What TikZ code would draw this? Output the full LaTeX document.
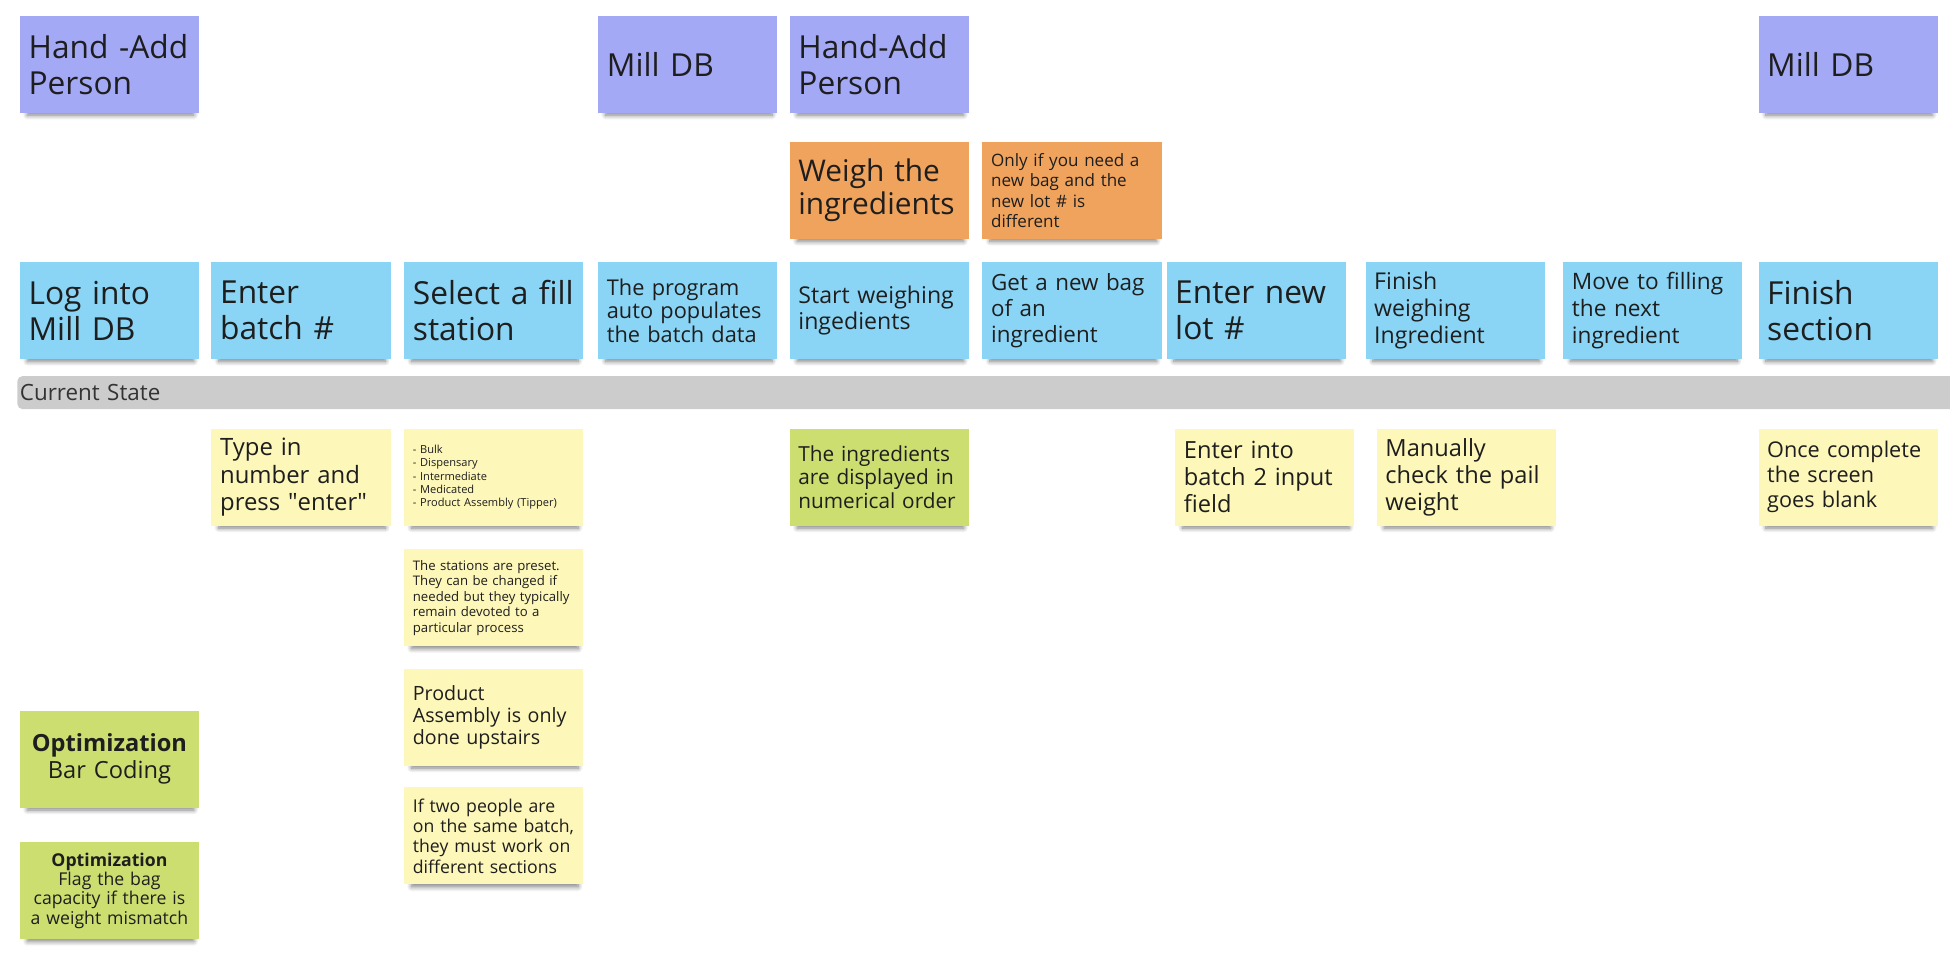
\documentclass[tikz,border=0pt]{standalone}
\usepackage{fontspec}
\setmainfont{Open Sans}
\usetikzlibrary{positioning,shadows.blur}

\definecolor{personcol}{HTML}{A4A9F6}
\definecolor{stepcol}{HTML}{8AD5F5}
\definecolor{orangecol}{HTML}{F0A35C}
\definecolor{yellowcol}{HTML}{FDF7B9}
\definecolor{greencol}{HTML}{CDDE70}
\definecolor{lanecol}{HTML}{CCCCCC}
\definecolor{inkcol}{HTML}{1E1E1E}

\newcommand{\fsz}[2]{\fontsize{#1}{#2}\selectfont}

\tikzset{
  sticky/.style={rectangle, minimum width=144pt, minimum height=78pt,
    text width=130pt, inner xsep=7pt, inner ysep=0pt, outer sep=0pt,
    align=left, text=inkcol,
    blur shadow={shadow xshift=1pt, shadow yshift=-5pt, shadow scale=0.93,
      shadow blur radius=4pt, shadow blur steps=8, shadow opacity=50}},
  person/.style={sticky, fill=personcol},
  stepnote/.style={sticky, fill=stepcol},
  orangenote/.style={sticky, fill=orangecol},
  yellownote/.style={sticky, fill=yellowcol},
  greennote/.style={sticky, fill=greencol},
  big/.style={font=\fsz{25.5}{29}},
  mid/.style={font=\fsz{18.6}{21.5}},
  lane/.style={fill=lanecol, rounded corners=4pt, minimum width=1580pt,
    minimum height=26.5pt, text width=1576pt, inner xsep=2pt, inner ysep=0pt,
    outer sep=0pt, align=left, text=black!80, font=\fsz{18}{20}}
}

\begin{document}
\begin{tikzpicture}[x=1pt, y=1pt]
    \useasboundingbox (0,0) rectangle (1568,-783);
    \clip (0,0) rectangle (1568,-783);

    % middle row: process steps
    \node [stepnote,big] (log) at (88,-249.7) {Log into\\Mill DB};
    \node [stepnote,big,right=10pt of log]      (batch)   {Enter\\batch \#};
    \node [stepnote,big,right=11pt of batch]    (station) {Select a fill\\station};
    \node [stepnote,right=12pt of station,font=\fsz{17.5}{19}] (auto)
          {The program\\auto populates\\the batch data};
    \node [stepnote,mid,right=10pt of auto]     (start)   {Start weighing\\ingedients};
    \node [stepnote,right=11pt of start,font=\fsz{18}{21}] (newbag)
          {Get a new bag\\of an\\ingredient};
    \node [stepnote,big,right=4pt of newbag]    (newlot)  {Enter new\\lot \#};
    \node [stepnote,mid,right=16pt of newlot]   (finishw) {Finish\\weighing\\Ingredient};
    \node [stepnote,right=15pt of finishw,font=\fsz{18.2}{21.5}] (move)
          {Move to filling\\the next\\ingredient};
    \node [stepnote,big,right=13pt of move]     (finishs) {Finish\\section};

    % top rows: who / what system
    \node [person,big,above=120pt of log]     (hand1) {Hand -Add\\Person};
    \node [person,big,above=120pt of auto]    (mill1) {Mill DB};
    \node [orangenote,above=18.5pt of start,font=\fsz{24}{26.6}] (weigh)
          {Weigh the\\ingredients};
    \node [person,big,above=23.5pt of weigh]  (hand2) {Hand-Add\\Person};
    \node [orangenote,above=18.5pt of newbag,font=\fsz{13.7}{16.3}] (onlyif)
          {Only if you need a\\new bag and the\\new lot \# is\\different};
    \node [person,big,above=120pt of finishs] (mill2) {Mill DB};

    % swim lane
    \node [lane,anchor=west] (state) at (14,-315.7) {Current State};

    % bottom rows: notes
    \node [yellownote,below=56pt of batch,font=\fsz{19.2}{21.8}] (typein)
          {Type in\\number and\\press \textquotedbl enter\textquotedbl};
    \node [yellownote,below=56pt of station,font=\fsz{8.9}{10.7}] (kinds)
          {- Bulk\\- Dispensary\\- Intermediate\\- Medicated\\- Product Assembly (Tipper)};
    \node [yellownote,below=19pt of kinds,font=\fsz{10.6}{12.4}] (preset)
          {The stations are preset.\\They can be changed if\\needed but they typically\\remain devoted to a\\particular process};
    \node [yellownote,below=18pt of preset,font=\fsz{15.8}{17.7}] (upstairs)
          {Product\\Assembly is only\\done upstairs};
    \node [yellownote,below=17.5pt of upstairs,font=\fsz{14.2}{16.3}] (twopeople)
          {If two people are\\on the same batch,\\they must work on\\different sections};
    \node [greennote,below=56pt of start,font=\fsz{16.7}{18.7}] (order)
          {The ingredients\\are displayed in\\numerical order};
    \node [yellownote,below=56pt of newlot,xshift=7pt,font=\fsz{19}{21.5}] (batchfield)
          {Enter into\\batch 2 input\\field};
    \node [yellownote,below=56pt of finishw,xshift=9pt,font=\fsz{19}{21.5}] (pail)
          {Manually\\check the pail\\weight};
    \node [yellownote,below=56pt of finishs,font=\fsz{17.4}{20.2}] (blank)
          {Once complete\\the screen\\goes blank};

    % optimizations
    \node [greennote,align=center,below=282.7pt of log,font=\fsz{19}{21.4}] (barcode)
          {\textbf{Optimization}\\Bar Coding};
    \node [greennote,align=center,below=27.7pt of barcode,font=\fsz{14.2}{15.6}] (flag)
          {\textbf{Optimization}\\Flag the bag\\capacity if there is\\a weight mismatch};
  \end{tikzpicture}
\end{document}
